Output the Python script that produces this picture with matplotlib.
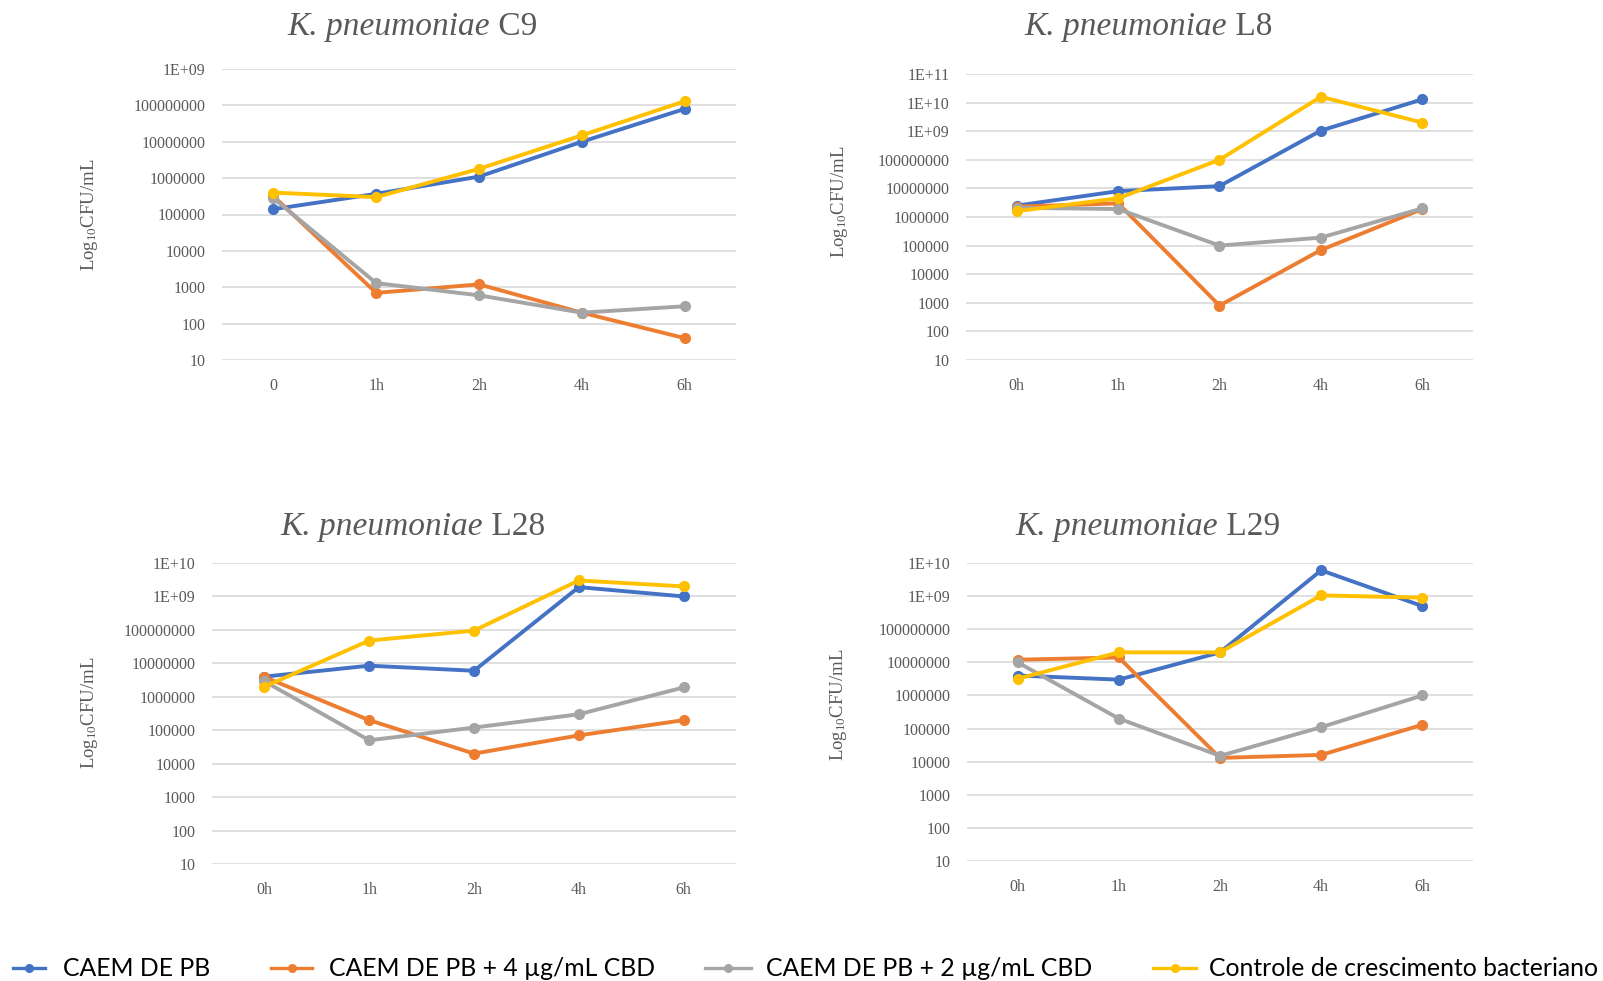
import math
import matplotlib
matplotlib.use("Agg")
import matplotlib.pyplot as plt
from matplotlib.lines import Line2D
from matplotlib.ticker import FixedLocator, FuncFormatter

plt.rcParams['font.family'] = 'Liberation Serif'
plt.rcParams['mathtext.fontset'] = 'custom'
plt.rcParams['mathtext.rm'] = 'Liberation Serif'
plt.rcParams['mathtext.it'] = 'Liberation Serif:italic'

# data (CFU/mL)
times_c9 = ['0', '1h', '2h', '4h', '6h']
times = ['0h', '1h', '2h', '4h', '6h']

series_names = ['CAEM DE PB', 'CAEM DE PB + 4 µg/mL CBD',
                'CAEM DE PB + 2 µg/mL CBD', 'Controle de crescimento bacteriano']
colors = ['#4472C4', '#ED7D31', '#A5A5A5', '#FFC000']

c9_pb = [1.4e5, 3.7e5, 1.1e6, 1.0e7, 8.0e7]
c9_cbd4 = [3.2e5, 700, 1200, 200, 40]
c9_cbd2 = [2.8e5, 1300, 600, 200, 300]
c9_ctrl = [4.0e5, 3.0e5, 1.8e6, 1.5e7, 1.3e8]

l8_pb = [2.5e6, 8.0e6, 1.2e7, 1.05e9, 1.3e10]
l8_cbd4 = [2.3e6, 3.0e6, 800, 7.0e4, 1.9e6]
l8_cbd2 = [2.1e6, 1.9e6, 1.0e5, 1.9e5, 2.0e6]
l8_ctrl = [1.6e6, 4.5e6, 1.0e8, 1.6e10, 2.0e9]

l28_pb = [4.0e6, 8.5e6, 6.0e6, 1.9e9, 1.0e9]
l28_cbd4 = [3.9e6, 2.0e5, 2.0e4, 7.0e4, 2.0e5]
l28_cbd2 = [2.9e6, 5.0e4, 1.2e5, 3.0e5, 1.9e6]
l28_ctrl = [2.0e6, 4.8e7, 9.5e7, 3.0e9, 2.0e9]

l29_pb = [4.0e6, 3.0e6, 2.0e7, 6.0e9, 5.0e8]
l29_cbd4 = [1.2e7, 1.4e7, 1.3e4, 1.6e4, 1.3e5]
l29_cbd2 = [1.0e7, 2.0e5, 1.5e4, 1.1e5, 1.0e6]
l29_ctrl = [3.2e6, 2.0e7, 2.0e7, 1.05e9, 9.0e8]

W, H = 1603, 981
fig = plt.figure(figsize=(W / 100, H / 100), dpi=100)
renderer = fig.canvas.get_renderer()

text_gray = '#595959'


def ylab(v, pos):
    if v >= 1e9:
        return '1E+%02d' % round(math.log10(v))
    return '%d' % round(v)


def panel(box, title, labels, data, top_exp, title_xy, ylabel_xy):
    left, top, right, bottom = box
    ax = fig.add_axes([left / W, 1 - bottom / H, (right - left) / W, (bottom - top) / H])
    x = list(range(len(labels)))
    for vals, c in zip(data, colors):
        ax.plot(x, vals, color=c, lw=2.8, marker='o', ms=7, clip_on=False, zorder=3)
    ax.set_yscale('log')
    ax.set_ylim(10, 10 ** top_exp)
    ax.set_xlim(-0.5, len(labels) - 0.5)
    ax.yaxis.set_major_locator(FixedLocator([10 ** k for k in range(1, top_exp + 1)]))
    ax.yaxis.set_minor_locator(FixedLocator([]))
    ax.yaxis.set_major_formatter(FuncFormatter(ylab))
    ax.set_xticks(x)
    ax.set_xticklabels(labels)
    ax.grid(axis='y', color='#D9D9D9', lw=1.2)
    ax.set_axisbelow(True)
    for s in ax.spines.values():
        s.set_visible(False)
    ax.tick_params(axis='both', length=0, labelsize=11.5, labelcolor=text_gray)
    ax.tick_params(axis='y', pad=12)
    ax.tick_params(axis='x', pad=13)

    # title: italic species + regular strain, centred at title_xy
    ty = 1 - title_xy[1] / H
    t1 = fig.text(0, ty, 'K. pneumoniae', style='italic', ha='left', va='center',
                  fontsize=24, color=text_gray)
    t2 = fig.text(0, ty, ' ' + title, ha='left', va='center', fontsize=24, color=text_gray)
    w1 = t1.get_window_extent(renderer).width
    w2 = t2.get_window_extent(renderer).width
    x0 = title_xy[0] - (w1 + w2) / 2
    t1.set_x(x0 / W)
    t2.set_x((x0 + w1) / W)

    fig.text(ylabel_xy[0] / W, 1 - ylabel_xy[1] / H, r'Log$_{10}$CFU/mL', rotation=90,
             ha='center', va='center', fontsize=13.5, color=text_gray)
    return ax


panel((222, 69, 736, 360), 'C9', times_c9, [c9_pb, c9_cbd4, c9_cbd2, c9_ctrl], 9,
      (412, 27), (89, 215))
panel((966, 74, 1473, 360), 'L8', times, [l8_pb, l8_cbd4, l8_cbd2, l8_ctrl], 11,
      (1148, 27), (840, 202))
panel((212, 563, 736, 864), 'L28', times, [l28_pb, l28_cbd4, l28_cbd2, l28_ctrl], 10,
      (413, 527), (89, 713))
panel((967, 563, 1473, 861), 'L29', times, [l29_pb, l29_cbd4, l29_cbd2, l29_ctrl], 10,
      (1148, 527), (838, 705))

# legend at the bottom
leg_line_x = [(13, 45), (271, 312), (705, 751), (1153, 1196)]
leg_text_x = [63, 329, 766, 1209]
ly = 1 - 968 / H
for (x0, x1), tx, name, c in zip(leg_line_x, leg_text_x, series_names, colors):
    fig.add_artist(Line2D([x0 / W, x1 / W], [ly, ly], color=c, lw=2.4,
                          transform=fig.transFigure))
    fig.add_artist(Line2D([(x0 + x1) / 2 / W], [ly], color=c, marker='o', ms=5.5,
                          transform=fig.transFigure))
    fig.text(tx / W, ly, name, ha='left', va='center', fontsize=17.8,
             family='Lato', color='#000000')

fig.savefig('out.png', dpi=100)
